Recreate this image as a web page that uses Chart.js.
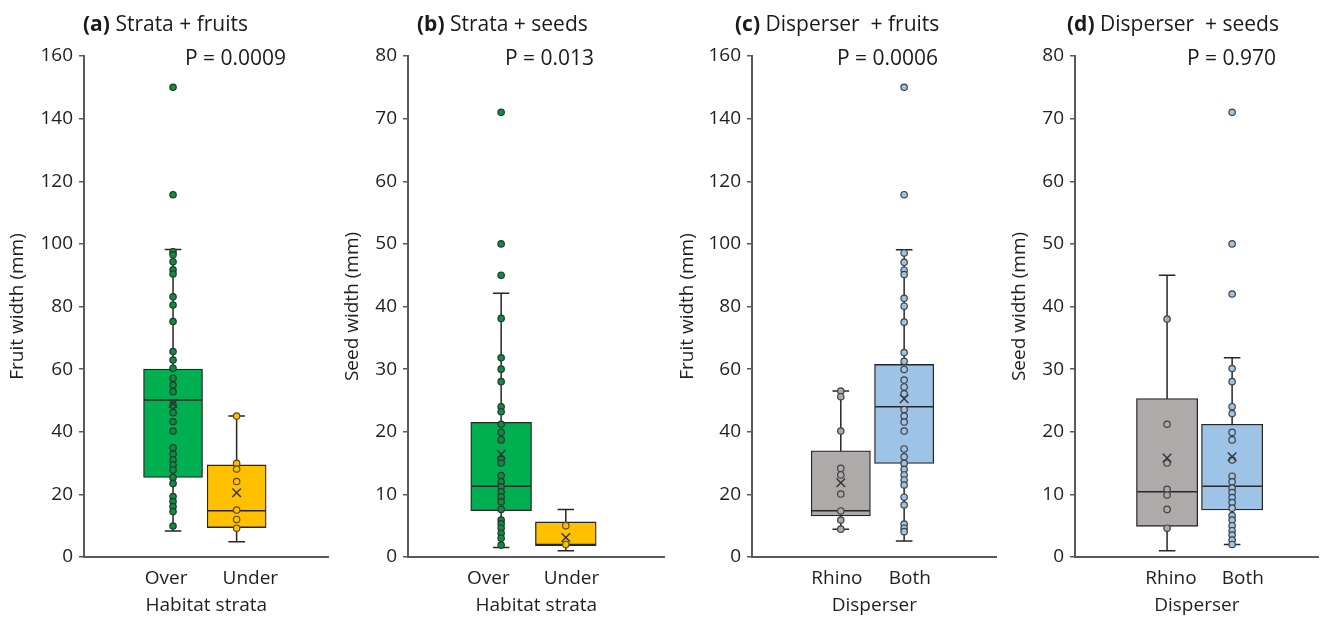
<!DOCTYPE html>
<html>
<head>
<meta charset="utf-8">
<script src="https://cdn.jsdelivr.net/npm/chart.js@4.4.0/dist/chart.umd.min.js"></script>
<style>
  body { margin: 0; background: #fff; width: 1326px; height: 617px; position: relative; overflow: hidden;
         font-family: "Open Sans", sans-serif; color: #1a1a1a; }
  .panel { position: absolute; top: 0; }
  .ttl, .pv { position: absolute; font-size: 21px; line-height: 24px; white-space: nowrap; }
</style>
</head>
<body>
<canvas id="c0" class="panel" width="336" height="617" style="left:0px"></canvas>
<canvas id="c1" class="panel" width="336" height="617" style="left:336px"></canvas>
<canvas id="c2" class="panel" width="332" height="617" style="left:672px"></canvas>
<canvas id="c3" class="panel" width="322" height="617" style="left:1004px"></canvas>

<script>
// text
var panelTags = ['(a)', '(b)', '(c)', '(d)'];
var panelNames = ['Strata + fruits', 'Strata + seeds', 'Disperser  + fruits', 'Disperser  + seeds'];
var pValues = ['P = 0.0009', 'P = 0.013', 'P = 0.0006', 'P = 0.970'];
var yTitles = ['Fruit width (mm)', 'Seed width (mm)', 'Fruit width (mm)', 'Seed width (mm)'];
var xTitles = ['Habitat strata', 'Habitat strata', 'Disperser', 'Disperser'];
var groupLabels = [['Over', 'Under'], ['Over', 'Under'], ['Rhino', 'Both'], ['Rhino', 'Both']];
var yMax = [160, 80, 160, 80];
var yStep = [20, 10, 20, 10];

// box stats: [low whisker, q1, median, q3, high whisker, mean]
var fruitOverBox = [8.3, 25.4, 50.1, 60, 98.2, 49];
var fruitUnderBox = [4.9, 9.4, 14.8, 29.4, 45, 20.5];
var seedOverBox = [1.5, 7.4, 11.3, 21.5, 42.1, 16.4];
var seedUnderBox = [1.0, 1.8, 2.0, 5.6, 7.6, 3.1];
var fruitRhinoBox = [8.9, 13.1, 14.8, 33.9, 53, 23.7];
var fruitBothBox = [5.1, 29.9, 48, 61.5, 98.1, 50.5];
var seedRhinoBox = [1.0, 4.9, 10.4, 25.3, 45, 15.8];
var seedBothBox = [2.0, 7.5, 11.3, 21.2, 31.8, 16];

// individual species values
var fruitOverPts = [150, 115.7, 97.5, 96.5, 94.3, 91.7, 90.4, 83.1, 80.5, 75.2, 65.6, 62.9, 60.3, 57.1, 54.9, 52.8, 48.5, 46.1, 43.2, 40.2, 34.9, 32.9, 31, 29.4, 27.8, 25.4, 23.5, 19.3, 17.7, 16.1, 14.5, 9.9];
var fruitUnderPts = [45, 29.9, 28.1, 24.1, 15, 12, 9.2];
var seedOverPts = [71, 50, 45, 38.1, 31.8, 30, 28, 24, 23.2, 21.2, 19.9, 18.7, 15.6, 15, 13, 12, 11.2, 10.4, 9.6, 8.8, 7.6, 5.9, 5.3, 4.6, 3.8, 3, 1.9];
var seedUnderPts = [5, 2];
var fruitRhinoPts = [53, 51.2, 40.2, 28.3, 26.2, 20.1, 14.7, 11.8, 8.9];
var fruitBothPts = [150, 115.7, 97.1, 94.1, 91.6, 90.2, 82.6, 80.1, 75, 65.3, 62.5, 59.9, 56.5, 54.3, 52.1, 47.1, 45, 43.1, 40.2, 34.5, 32, 29.9, 28, 26.2, 24.6, 23, 19.1, 16.6, 10.5, 9.2, 8.1];
var seedRhinoPts = [38, 21.2, 15, 10.8, 9.9, 7.6, 4.6];
var seedBothPts = [71, 50, 42, 30.1, 28, 24, 22.9, 19.9, 18.7, 15.5, 12.9, 12, 11, 10.3, 9.5, 8.7, 7.8, 6.6, 5.9, 5, 4.2, 3.5, 2.7, 2];

var panelBoxes = [[fruitOverBox, fruitUnderBox], [seedOverBox, seedUnderBox], [fruitRhinoBox, fruitBothBox], [seedRhinoBox, seedBothBox]];
var panelPts = [[fruitOverPts, fruitUnderPts], [seedOverPts, seedUnderPts], [fruitRhinoPts, fruitBothPts], [seedRhinoPts, seedBothPts]];

// layout (pixels / x-units on a 0..10 axis)
var layout = [
  { left: 0,    width: 336, axisW: 84, padR: 2, titleX: 83,   pX: 185,  yPad: 6.5, box: [3.64, 6.24], lab: [3.36, 6.8],  half: 1.18, cap: 0.34 },
  { left: 336,  width: 336, axisW: 72, padR: 2, titleX: 417,  pX: 505,  yPad: 5.5, box: [3.63, 6.15], lab: [3.13, 6.37], half: 1.16, cap: 0.32 },
  { left: 672,  width: 332, axisW: 80, padR: 1, titleX: 735,  pX: 837,  yPad: 4,   box: [3.63, 6.22], lab: [3.47, 6.45], half: 1.18, cap: 0.34 },
  { left: 1004, width: 322, axisW: 71, padR: 0, titleX: 1067, pX: 1187, yPad: 4.5, box: [3.78, 6.45], lab: [3.94, 6.89], half: 1.22, cap: 0.34 }
];
var boxColors = [['#00b050', '#ffc000'], ['#00b050', '#ffc000'], ['#aeaaaa', '#9dc3e6'], ['#aeaaaa', '#9dc3e6']];
var ptFill = [['#128a46', '#ffc000'], ['#128a46', '#ffc000'], ['#aeaaaa', '#9dc3e6'], ['#aeaaaa', '#9dc3e6']];
var ptEdge = [['#1d3b2a', '#5b4a12'], ['#1d3b2a', '#5b4a12'], ['#404040', '#404040'], ['#404040', '#404040']];

var FONT = '"Open Sans", sans-serif';
var TXT = '#1f1f1f';
var AXIS = '#595959';

function seg(out, x0, y0, x1, y1) {
  out.push({ x: x0, y: y0 }, { x: x1, y: y1 }, { x: x1, y: null });
}

for (var p = 0; p < 4; p++) {
  (function (p) {
    var L = layout[p];
    var plotW = L.width - L.axisW - L.padR;

    var t = document.createElement('div');
    t.className = 'ttl';
    t.style.left = L.titleX + 'px';
    t.style.top = '11px';
    t.innerHTML = '<b>' + panelTags[p] + '</b> ' + panelNames[p].replace(/  /g, ' &nbsp;');
    document.body.appendChild(t);

    var pv = document.createElement('div');
    pv.className = 'pv';
    pv.style.left = L.pX + 'px';
    pv.style.top = '45px';
    pv.textContent = pValues[p];
    document.body.appendChild(pv);

    var whisk = [], marks = [], boxData = [], means = [];
    var datasets = [];
    for (var g = 0; g < 2; g++) {
      var b = panelBoxes[p][g], c = L.box[g];
      seg(whisk, c, b[0], c, b[4]);
      seg(marks, c - L.cap, b[0], c + L.cap, b[0]);
      seg(marks, c - L.cap, b[4], c + L.cap, b[4]);
      seg(marks, c - L.half, b[2], c + L.half, b[2]);
      boxData.push({ x: c, y: [b[1], b[3]] });
      means.push({ x: c, y: b[5] });
      datasets.push({
        type: 'scatter',
        data: panelPts[p][g].map(function (v) { return { x: c, y: v }; }),
        pointRadius: 3.2,
        pointBorderWidth: 1.2,
        pointBackgroundColor: ptFill[p][g],
        pointBorderColor: ptEdge[p][g],
        order: 2
      });
    }
    datasets.push({
      type: 'line', data: whisk, borderColor: '#262626', borderWidth: 1.5,
      pointRadius: 0, fill: false, spanGaps: false, order: 6
    });
    datasets.push({
      type: 'bar', data: boxData, backgroundColor: boxColors[p], borderColor: '#262626',
      borderWidth: 1.3, borderSkipped: false, barThickness: L.half * 2 * plotW / 10, order: 5
    });
    datasets.push({
      type: 'line', data: marks, borderColor: '#262626', borderWidth: 1.5,
      pointRadius: 0, fill: false, spanGaps: false, order: 4
    });
    datasets.push({
      type: 'scatter', data: means, pointStyle: 'crossRot', pointRadius: 6,
      pointBorderWidth: 1.4, pointBorderColor: '#333', pointBackgroundColor: 'rgba(0,0,0,0)', order: 1
    });

    new Chart(document.getElementById('c' + p), {
      type: 'scatter',
      data: { datasets: datasets },
      options: {
        responsive: false,
        animation: false,
        events: [],
        layout: { padding: { top: 56, right: L.padR, bottom: 0, left: 0 } },
        plugins: { legend: { display: false }, tooltip: { enabled: false } },
        scales: {
          x: {
            type: 'linear', min: 0, max: 10, offset: false,
            grid: { display: false, drawTicks: false },
            border: { color: AXIS, width: 2 },
            afterBuildTicks: function (s) { s.ticks = L.lab.map(function (v) { return { value: v }; }); },
            afterFit: function (s) { s.height = 60; },
            ticks: {
              autoSkip: false, maxRotation: 0, padding: 10, color: TXT,
              font: { family: FONT, size: 19 },
              callback: function (v, i) { return groupLabels[p][i]; }
            },
            title: { display: true, text: xTitles[p], color: TXT, font: { family: FONT, size: 19 }, padding: { top: 4, bottom: 0 } }
          },
          y: {
            min: 0, max: yMax[p],
            grid: { drawOnChartArea: false, drawTicks: true, tickLength: 5, color: AXIS, lineWidth: 1.5 },
            border: { color: AXIS, width: 2 },
            afterFit: function (s) { s.width = L.axisW; },
            ticks: { stepSize: yStep[p], padding: 6, color: TXT, font: { family: FONT, size: 19 } },
            title: { display: true, text: yTitles[p], color: TXT, font: { family: FONT, size: 19 }, padding: { top: L.yPad, bottom: 0 } }
          }
        }
      }
    });
  })(p);
}
</script>
</body>
</html>
